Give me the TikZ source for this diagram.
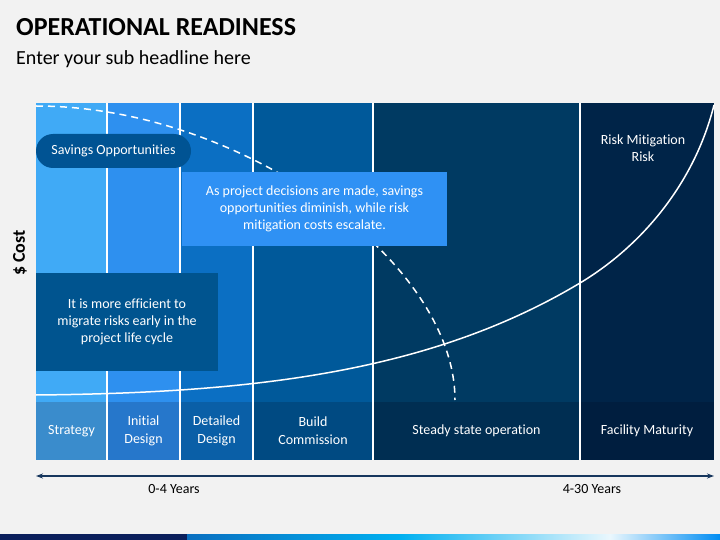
\documentclass[tikz,border=0pt]{standalone}
\usepackage{fontspec}
\setmainfont{Carlito}[Ligatures=NoCommon]
\usepackage{xcolor}
\usetikzlibrary{arrows.meta,positioning}

\definecolor{pagebg}{HTML}{F2F2F2}
\definecolor{colA}{HTML}{40AAF6}
\definecolor{colB}{HTML}{2E90EF}
\definecolor{colC}{HTML}{0B6FC3}
\definecolor{colD}{HTML}{00599A}
\definecolor{colE}{HTML}{003A62}
\definecolor{colF}{HTML}{002448}
\definecolor{labA}{HTML}{3A8CCC}
\definecolor{labB}{HTML}{2677CB}
\definecolor{labC}{HTML}{0A5FA7}
\definecolor{labD}{HTML}{004A82}
\definecolor{labE}{HTML}{002E52}
\definecolor{labF}{HTML}{001E3F}
\definecolor{pillblue}{HTML}{005393}
\definecolor{boxlight}{HTML}{2F91F4}
\definecolor{boxdark}{HTML}{00548F}
\definecolor{axisnavy}{HTML}{17375E}
\definecolor{stripnavy}{HTML}{0B1F5C}
\definecolor{stripblue}{HTML}{0A6FC0}
\definecolor{stripcyan}{HTML}{00B0F0}
\definecolor{stripwhite}{HTML}{EAF7FD}

\begin{document}
\begin{tikzpicture}[x=1pt,y=-1pt,
    cell/.style={inner sep=0pt, minimum height=58, text=white, align=center,
        font=\fontsize{14}{18}\selectfont},
    box/.style={inner sep=0pt, text=white, align=center,
        font=\fontsize{14}{17}\selectfont},
    sepline/.style={white, line width=1.8pt},
    curveline/.style={white, line width=1.5pt},
    years/.style={font=\fontsize{14}{16}\selectfont}]
    % Page background
    \fill [pagebg] (0,0) rectangle (720,540);
    % Title
    \node [anchor=base west, inner sep=0pt, font=\bfseries\fontsize{26}{30}\selectfont] (title) at (16,36) {OPERATIONAL READINESS};
    \node [anchor=base west, inner sep=0pt, font=\fontsize{20}{24}\selectfont] (subtitle) at (16,65) {Enter your sub headline here};
    % Columns
    \fill [colA] (36,103) rectangle (107,402);
    \fill [colB] (107,103) rectangle (180,402);
    \fill [colC] (180,103) rectangle (253,402);
    \fill [colD] (253,103) rectangle (373,402);
    \fill [colE] (373,103) rectangle (580,402);
    \fill [colF] (580,103) rectangle (714,402);
    % Phase labels
    \node [cell, fill=labA, minimum width=71] (strategy) at (71.5,431) {Strategy};
    \node [cell, fill=labB, minimum width=73] (initial) at (143.5,431) {Initial\\Design};
    \node [cell, fill=labC, minimum width=73] (detailed) at (216.5,431) {Detailed\\Design};
    \node [cell, fill=labD, minimum width=120] (build) at (313,431) {Build\\Commission};
    \node [cell, fill=labE, minimum width=207] (steady) at (476.5,431) {Steady state operation};
    \node [cell, fill=labF, minimum width=134] (maturity) at (647,431) {Facility Maturity};
    % White separators
    \draw [sepline] (107,103) -- (107,460);
    \draw [sepline] (180,103) -- (180,460);
    \draw [sepline] (253,103) -- (253,460);
    \draw [sepline] (373,103) -- (373,460);
    \draw [sepline] (580,103) -- (580,460);
    % Savings curve (dashed) and risk curve
    \draw [curveline, dash pattern=on 7pt off 5pt] (36,106) .. controls (240,106) and (455,260) .. (455,400);
    \draw [curveline] (36,395) .. controls (250,393) and (430,373) .. (580,283)
        .. controls (640,247) and (694,185) .. (714,105);
    % Text boxes
    \node [box, fill=pillblue, minimum width=155, minimum height=34, rounded corners=17] (savings) at (113.5,151) {Savings Opportunities};
    \node [box, fill=boxlight, minimum width=265, minimum height=74] (decisions) at (314.5,209) {As project decisions are made, savings\\opportunities diminish, while risk\\mitigation costs escalate.};
    \node [box, fill=boxdark, minimum width=182, minimum height=98] (efficient) at (127,322) {It is more efficient to\\migrate risks early in the\\project life cycle};
    \node [box] (riskmit) at (643,148) {Risk Mitigation\\Risk};
    % Axis label
    \node [rotate=90, inner sep=0pt, font=\bfseries\fontsize{18}{20}\selectfont] (cost) at (20,253) {\$ Cost};
    % Time line
    \coordinate (tstart) at (36,476);
    \coordinate (tend) at (714,476);
    \draw [axisnavy, line width=1.3pt, {Stealth[length=7pt,width=5pt]}-{Stealth[length=7pt,width=5pt]}] (tstart) -- (tend);
    \node [years] (early) at (174,489) {0-4 Years};
    \node [years] (late) at (592,489) {4-30 Years};
    % Bottom strip
    \fill [stripnavy] (0,534) rectangle (187,540);
    \shade [left color=stripblue, right color=stripcyan] (187,534) rectangle (400,540);
    \shade [left color=stripcyan, right color=stripwhite] (400,534) rectangle (610,540);
    \shade [left color=stripwhite, right color=stripcyan!80!blue] (610,534) rectangle (720,540);
\end{tikzpicture}
\end{document}
